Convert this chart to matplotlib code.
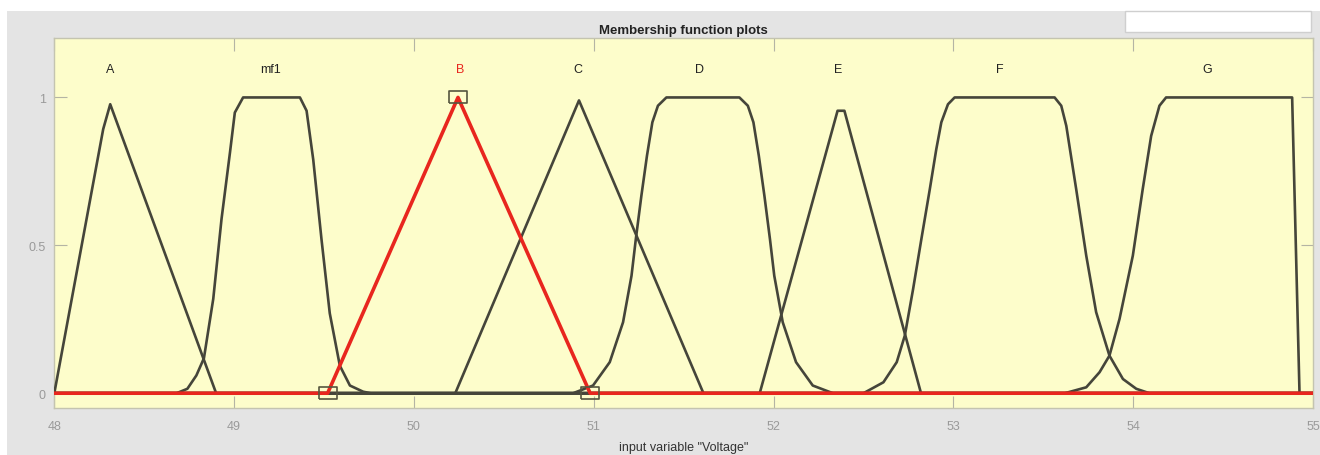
import matplotlib.pyplot as plt
from matplotlib.patches import Rectangle

plt.rcParams['font.family'] = ['Liberation Sans', 'DejaVu Sans']

# universe of discourse for the input variable
voltage_range = [48.0, 55.0]

# membership functions of "Voltage" (breakpoints x, membership degree y)
a_x = [48.0, 48.272, 48.311, 48.9]
a_y = [0.0, 0.893, 0.977, 0.0]

mf1_x = [48.68, 48.74, 48.79, 48.832, 48.884, 48.93, 48.977, 49.004, 49.05,
         49.366, 49.403, 49.44, 49.486, 49.532, 49.588, 49.644, 49.718, 49.76]
mf1_y = [0.0, 0.015, 0.06, 0.118, 0.319, 0.589, 0.814, 0.949, 1.0,
         1.0, 0.955, 0.79, 0.52, 0.27, 0.093, 0.026, 0.005, 0.0]

b_x = [49.52, 50.245, 50.98]
b_y = [0.0, 1.0, 0.0]

c_x = [50.23, 50.918, 51.61]
c_y = [0.0, 0.99, 0.0]

d_x = [50.885, 50.996, 51.089, 51.163, 51.21, 51.234, 51.265, 51.296, 51.326, 51.357, 51.404,
       51.81, 51.857, 51.888, 51.918, 51.949, 51.98, 52.004, 52.051, 52.125, 52.218, 52.33]
d_y = [0.0, 0.026, 0.105, 0.24, 0.397, 0.521, 0.668, 0.803, 0.916, 0.972, 1.0,
       1.0, 0.972, 0.916, 0.803, 0.668, 0.521, 0.397, 0.24, 0.105, 0.026, 0.0]

e_x = [51.923, 52.356, 52.394, 52.82]
e_y = [0.0, 0.955, 0.955, 0.0]

f_x = [52.50, 52.611, 52.685, 52.73, 52.776, 52.822, 52.869, 52.905, 52.933, 52.97, 53.007,
       53.563, 53.6, 53.628, 53.683, 53.739, 53.794, 53.868, 53.943, 54.017, 54.09]
f_y = [0.0, 0.037, 0.105, 0.195, 0.352, 0.521, 0.69, 0.825, 0.916, 0.977, 1.0,
       1.0, 0.972, 0.904, 0.69, 0.465, 0.274, 0.127, 0.048, 0.015, 0.0]

g_x = [53.62, 53.739, 53.813, 53.868, 53.924, 53.998, 54.053, 54.1, 54.146, 54.183, 54.884, 54.925]
g_y = [0.0, 0.02, 0.071, 0.127, 0.251, 0.465, 0.69, 0.87, 0.972, 1.0, 1.0, 0.0]

mf_names = ['A', 'mf1', 'B', 'C', 'D', 'E', 'F', 'G']
selected = 'B'

label_x = [48.31, 49.2, 50.256, 50.91, 51.59, 52.357, 53.258, 54.41]
label_y = 1.096

curves = {
    'A': (a_x, a_y), 'mf1': (mf1_x, mf1_y), 'B': (b_x, b_y), 'C': (c_x, c_y),
    'D': (d_x, d_y), 'E': (e_x, e_y), 'F': (f_x, f_y), 'G': (g_x, g_y),
}

fig = plt.figure(figsize=(13.2, 4.56), dpi=100, facecolor='white')
# gray panel behind the axes and the small white edit box at the top right
fig.add_artist(Rectangle((7 / 1320, 0), 1, 1 - 12 / 456, transform=fig.transFigure,
                         facecolor='#e4e4e4', edgecolor='none', zorder=0))
fig.add_artist(Rectangle((1125 / 1320, 1 - 33 / 456), 186 / 1320, 21 / 456,
                         transform=fig.transFigure, facecolor='white',
                         edgecolor='#cfcfcf', linewidth=1, zorder=1))

ax = fig.add_axes([54.3 / 1320, 1 - 409 / 456, (1313 - 54.3) / 1320, (409 - 39.3) / 456])
ax.set_facecolor('#fdfdcb')

def full_range(xs, ys):
    # membership is zero outside the breakpoints
    return [voltage_range[0]] + xs + [voltage_range[1]], [0.0] + ys + [0.0]

for name in mf_names:
    if name == selected:
        continue
    xs, ys = full_range(*curves[name])
    ax.plot(xs, ys, color='#45453a', linewidth=1.9, zorder=3)

bx, by = full_range(*curves[selected])
ax.plot(bx, by, color='#e8261e', linewidth=2.6, zorder=4)
rect_marker = [(-1.5, -1), (1.5, -1), (1.5, 1), (-1.5, 1), (-1.5, -1)]
ax.plot(b_x, b_y, linestyle='none', marker=rect_marker, markersize=13,
        markerfacecolor='none', markeredgecolor='#55553f', markeredgewidth=1.2,
        zorder=5, clip_on=False)

for name, lx in zip(mf_names, label_x):
    ax.text(lx, label_y, name, ha='center', va='center', fontsize=9,
            color='#e8261e' if name == selected else '#222222')

ax.set_xlim(voltage_range)
ax.set_ylim(-0.05, 1.2)
ax.set_xticks(range(48, 56))
ax.set_yticks([0, 0.5, 1])
ax.set_yticklabels(['0', '0.5', '1'])
ax.tick_params(direction='in', length=9, width=0.8, color='#b4b4a4',
               labelcolor='#9a9a9a', labelsize=9, top=True, right=True)
ax.tick_params(axis='x', pad=9)
ax.tick_params(axis='y', pad=6)
for spine in ax.spines.values():
    spine.set_color('#c4c4b0')
    spine.set_linewidth(1.0)

ax.set_title('Membership function plots', fontsize=9.5, fontweight='bold',
             color='#222222', pad=4)
ax.set_xlabel('input variable "Voltage"', fontsize=9, color='#333333', labelpad=6)

fig.savefig('out.png', dpi=100, facecolor=fig.get_facecolor())
